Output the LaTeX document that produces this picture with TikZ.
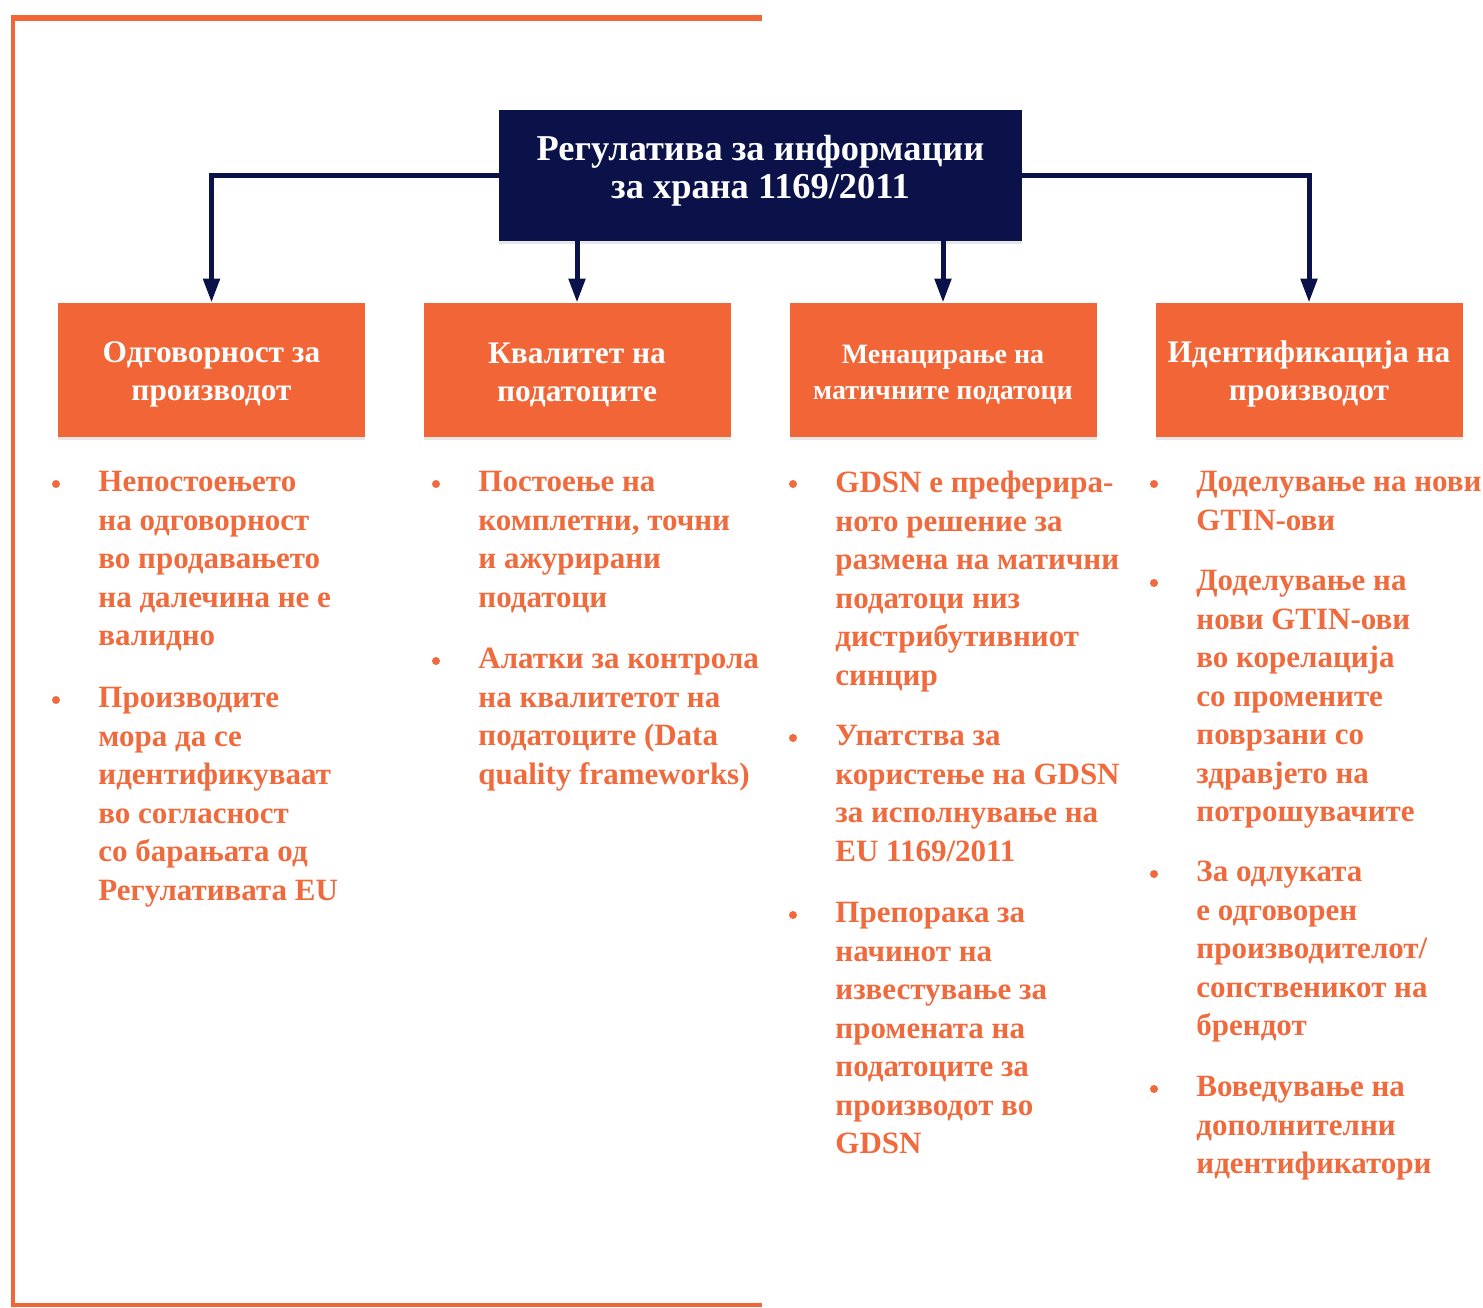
\documentclass[tikz,border=0pt]{standalone}
\usepackage{fontspec}
\setmainfont{Liberation Serif}
\usetikzlibrary{arrows.meta,shadows}

\definecolor{navy}{HTML}{0B1249}
\definecolor{boxorange}{HTML}{F16536}
\definecolor{txtorange}{HTML}{EF6A3C}

\tikzset{
    mainbox/.style={fill=navy, text=white, align=center, inner sep=0pt,
        minimum width=261.5pt, minimum height=65.5pt,
        font=\bfseries\fontsize{18.2}{19}\selectfont,
        drop shadow={shadow xshift=0pt, shadow yshift=-1.5pt, opacity=0.2}},
    topicbox/.style={fill=boxorange, text=white, align=center, inner sep=0pt,
        minimum width=153.5pt, minimum height=67pt,
        font=\bfseries\fontsize{15.7}{19}\selectfont,
        drop shadow={shadow xshift=0pt, shadow yshift=-1.5pt, opacity=0.2}},
    link/.style={navy, line width=2.5pt, -{Triangle[length=12pt, width=8pt]}},
    itemtext/.style={anchor=north west, inner sep=0pt, align=left, text=txtorange,
        font=\bfseries\fontsize{15.5}{19.25}\selectfont},
    frameline/.style={boxorange, line width=2pt},
}

% one bullet point: name, x, top y, text
\newcommand{\bulletitem}[4]{%
    \node[itemtext] (#1) at (#2,#3) {#4};
    \fill[txtorange] ([xshift=-21pt, yshift=-6.5pt]#1.north west) circle (2pt);
}

\begin{document}
\begin{tikzpicture}[x=0.5pt, y=-0.5pt]
    \useasboundingbox (0,0) rectangle (1483,1307);

    % frame
    \draw[frameline, line width=3pt] (762,18) -- (11,18);
    \draw[frameline] (12.5,18) -- (12.5,1305) -- (762,1305);

    % boxes
    \node[mainbox] (reg) at (760.5,175.5) {Регулатива за информации\\[0pt]за храна 1169/2011\\[-10pt]};

    \node[topicbox] (odg) at (211.5,370) {\\[-4pt]Одговорност за\\производот};
    \node[topicbox] (kval) at (577,370) {\\[-4pt]Квалитет на\\податоците};
    \node[topicbox, font=\bfseries\fontsize{14}{18}\selectfont] (men) at (943,370) {\\[-4pt]Менацирање на\\матичните податоци};
    \node[topicbox] (ident) at (1309,370) {\\[-4pt]Идентификација на\\производот};

    % connectors
    \draw[link] (reg.west) -| (odg.north);
    \draw[link] (reg.south -| kval.north) -- (kval.north);
    \draw[link] (reg.south -| men.north) -- (men.north);
    \draw[link] (reg.east) -| (ident.north);

    % lists
    \bulletitem{odg1}{98}{471}{Непостоењето\\на одговорност\\во продавањето\\на далечина не е\\валидно}
    \bulletitem{odg2}{98}{687}{Производите\\мора да се\\идентификуваат\\во согласност\\со барањата од\\Регулативата EU}

    \bulletitem{kval1}{478}{471}{Постоење на\\комплетни, точни\\и ажурирани\\податоци}
    \bulletitem{kval2}{478}{648}{Алатки за контрола\\на квалитетот на\\податоците (Data\\quality frameworks)}

    \bulletitem{men1}{835}{471}{GDSN е преферира-\\ното решение за\\размена на матични\\податоци низ\\дистрибутивниот\\синцир}
    \bulletitem{men2}{835}{725}{Упатства за\\користење на GDSN\\за исполнување на\\EU 1169/2011}
    \bulletitem{men3}{835}{902}{Препорака за\\начинот на\\известување за\\промената на\\податоците за\\производот во\\GDSN}

    \bulletitem{ident1}{1196}{471}{Доделување на нови\\GTIN-ови}
    \bulletitem{ident2}{1196}{570}{Доделување на\\нови GTIN-ови\\во корелација\\со промените\\поврзани со\\здравјето на\\потрошувачите}
    \bulletitem{ident3}{1196}{861}{За одлуката\\е одговорен\\производителот/\\сопственикот на\\брендот}
    \bulletitem{ident4}{1196}{1076}{Воведување на\\дополнителни\\идентификатори}
\end{tikzpicture}
\end{document}
